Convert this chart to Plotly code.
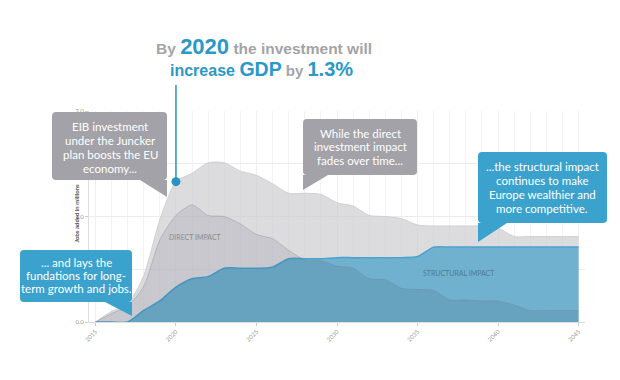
import plotly.graph_objects as go

# ---------------- data ----------------
years = list(range(2015, 2046))
total_impact = [0.00, 0.10, 0.17, 0.44, 0.97, 1.33, 1.41, 1.51, 1.51, 1.43,
                1.39, 1.31, 1.22, 1.22, 1.21, 1.13, 1.10, 1.01, 1.00, 0.98,
                0.92, 0.91, 0.91, 0.91, 0.91, 0.89, 0.81, 0.81, 0.81, 0.81, 0.81]
direct_impact = [0.00, 0.08, 0.15, 0.34, 0.78, 1.01, 1.11, 1.01, 1.00, 0.93,
                 0.83, 0.79, 0.68, 0.59, 0.58, 0.53, 0.51, 0.41, 0.40, 0.32,
                 0.31, 0.30, 0.21, 0.21, 0.20, 0.20, 0.16, 0.11, 0.11, 0.11, 0.11]
structural_impact = [0.00, 0.00, 0.00, 0.11, 0.20, 0.33, 0.41, 0.43, 0.51, 0.51,
                     0.51, 0.52, 0.60, 0.60, 0.60, 0.61, 0.61, 0.61, 0.61, 0.61,
                     0.62, 0.71, 0.71, 0.71, 0.71, 0.71, 0.71, 0.71, 0.71, 0.71, 0.71]
x_ticks = [2015, 2020, 2025, 2030, 2035, 2040, 2045]
y_ticks = [0.0, 0.5, 1.0, 1.5, 2.0]
y_tick_labels = ["0.0", "", "1.0", "", "2.0"]   # 0.5 / 1.5 sit behind the callouts
highlight_year = 2020

# ---------------- layout geometry (screen pixels) ----------------
OFF = 8                      # default page margin around the plot div
FW, FH = 620 - 2 * OFF, 380 - 2 * OFF
L, R, T, B = 89, 585, 111, 322   # plot area in screen pixels
PW, PH = R - L, B - T
Y_MAX = 2.0


def px(x):
    return (x - L) / PW


def py(y):
    return (B - y) / PH


def P(x, y):
    return f"{px(x):.5f},{py(y):.5f}"


def box_path(x0, y0, x1, y1, r, tail):
    p = (f"M{P(x0 + r, y0)} L{P(x1 - r, y0)} Q{P(x1, y0)} {P(x1, y0 + r)} "
         f"L{P(x1, y1 - r)} Q{P(x1, y1)} {P(x1 - r, y1)} "
         f"L{P(x0 + r, y1)} Q{P(x0, y1)} {P(x0, y1 - r)} "
         f"L{P(x0, y0 + r)} Q{P(x0, y0)} {P(x0 + r, y0)} Z")
    t = "M" + " L".join(P(a, b) for a, b in tail) + " Z"
    return p, t


GRAY_BOX = "#a3a2a8"
BLUE_BOX = "#3aa2cd"
TXT_GRAY = "#a3a3a8"
TXT_BLUE = "#2a98c8"
SM = 0.7

fig = go.Figure()

fig.add_trace(go.Scatter(
    x=years, y=total_impact, mode="lines", fill="tozeroy",
    line=dict(color="rgba(205,205,209,0.9)", width=1, shape="spline", smoothing=SM),
    fillcolor="rgba(205,205,210,0.7)", hoverinfo="skip", showlegend=False))

fig.add_trace(go.Scatter(
    x=years, y=structural_impact, mode="lines", fill="tozeroy",
    line=dict(color="#4aa3cf", width=1.5, shape="spline", smoothing=SM),
    fillcolor="rgba(100,172,205,0.9)", hoverinfo="skip", showlegend=False))

fig.add_trace(go.Scatter(
    x=years, y=direct_impact, mode="lines", fill="tozeroy",
    line=dict(color="rgba(120,130,150,0.35)", width=1, shape="spline", smoothing=SM),
    fillcolor="rgba(30,30,55,0.10)", hoverinfo="skip", showlegend=False))

hi = years.index(highlight_year)
fig.add_trace(go.Scatter(
    x=[highlight_year], y=[total_impact[hi]], mode="markers",
    marker=dict(color="#2b93c3", size=9), hoverinfo="skip", showlegend=False))

shapes = [dict(type="line", xref="x", yref="paper",
               x0=highlight_year, x1=highlight_year,
               y0=total_impact[hi] / Y_MAX, y1=py(85),
               line=dict(color="#2b93c3", width=1.5), layer="above")]

callouts = [
    (GRAY_BOX, (52, 112, 167, 180), [(140, 180), (167, 180), (167, 197)],
     110, [126.7, 140.5, 154.2, 168],
     ["EIB investment", "under the Juncker", "plan boosts the EU", "economy..."]),
    (BLUE_BOX, (20, 250, 132, 302), [(105, 302), (132, 302), (132, 316)],
     76, [262.7, 275.5, 288.3],
     ["... and lays the", "fundations for long-", "term growth and jobs."]),
    (GRAY_BOX, (303, 119, 417, 175), [(303, 175), (328, 175), (303, 190)],
     360, [133.3, 146.8, 160.2],
     ["While the direct", "investment impact", "fades over time..."]),
    (BLUE_BOX, (478, 152, 607, 223), [(478, 223), (507, 223), (478, 242)],
     542, [166.7, 180.5, 194.3, 208.3],
     ["...the structural impact", "continues to make", "Europe wealthier and",
      "more competitive."]),
]

annotations = []
for color, (x0, y0, x1, y1), tail, cx, ys, lines in callouts:
    bp, tp = box_path(x0, y0, x1, y1, 4, tail)
    for path in (bp, tp):
        shapes.append(dict(type="path", xref="paper", yref="paper", path=path,
                           fillcolor=color, line=dict(width=0), layer="above"))
    for yy, txt in zip(ys, lines):
        annotations.append(dict(
            xref="paper", yref="paper", x=px(cx), y=py(yy), text=txt,
            showarrow=False, xanchor="center", yanchor="middle",
            font=dict(family="Lato", size=11.5, color="white")))

# series labels
annotations.append(dict(xref="x", yref="y", x=2021.2, y=0.81, text="DIRECT IMPACT",
                        showarrow=False, font=dict(family="Lato", size=7, color="#8d8c92")))
annotations.append(dict(xref="x", yref="y", x=2037.6, y=0.46, text="STRUCTURAL IMPACT",
                        showarrow=False, font=dict(family="Lato", size=7, color="#4d7d95")))

# y-axis title
annotations.append(dict(xref="paper", yref="paper", x=px(70), y=py(213),
                        text="<b>Jobs added in millions</b>", textangle=-90,
                        showarrow=False, font=dict(family="Lato", size=6, color="#555")))

# headline
g = TXT_GRAY
annotations.append(dict(
    xref="paper", yref="paper", x=px(264), y=py(46), showarrow=False,
    xanchor="center", yanchor="middle",
    text=(f"<b><span style='color:{g}'>By </span>"
          f"<span style='font-size:22px'>2020</span>"
          f"<span style='color:{g}'> the investment will</span></b>"),
    font=dict(family="Liberation Sans", size=15.5, color=TXT_BLUE)))
annotations.append(dict(
    xref="paper", yref="paper", x=px(261), y=py(69), showarrow=False,
    xanchor="center", yanchor="middle",
    text=(f"<b>increase <span style='font-size:19.5px'>GDP</span>"
          f"<span style='color:{g};font-size:15px'> by </span>"
          f"<span style='font-size:20px'>1.3%</span></b>"),
    font=dict(family="Liberation Sans", size=16, color=TXT_BLUE)))

fig.update_layout(
    template="none",
    width=FW, height=FH,
    margin=dict(l=L - OFF, r=(OFF + FW) - R, t=T - OFF, b=(OFF + FH) - B,
                pad=0, autoexpand=False),
    paper_bgcolor="white", plot_bgcolor="white",
    shapes=shapes, annotations=annotations,
    xaxis=dict(range=[2014.6, 2045.4], tickvals=x_ticks, tickangle=-45,
               automargin=False,
               tickfont=dict(family="Lato", size=6, color="#999"),
               ticks="outside", ticklen=3, tickcolor="#ccc",
               showline=True, linecolor="#dedede", linewidth=1,
               showgrid=True, gridcolor="#efefef", gridwidth=1,
               minor=dict(dtick=1, showgrid=True, gridcolor="#f2f2f2"),
               zeroline=False, fixedrange=True),
    yaxis=dict(range=[0, Y_MAX], tickvals=y_ticks, ticktext=y_tick_labels,
               automargin=False,
               tickfont=dict(family="Lato", size=6, color="#999"),
               ticks="outside", ticklen=3, tickcolor="#ccc",
               showline=True, linecolor="#dedede", linewidth=1,
               showgrid=True, gridcolor="#ececec", zeroline=False, fixedrange=True),
)

fig.write_html("out.html")
